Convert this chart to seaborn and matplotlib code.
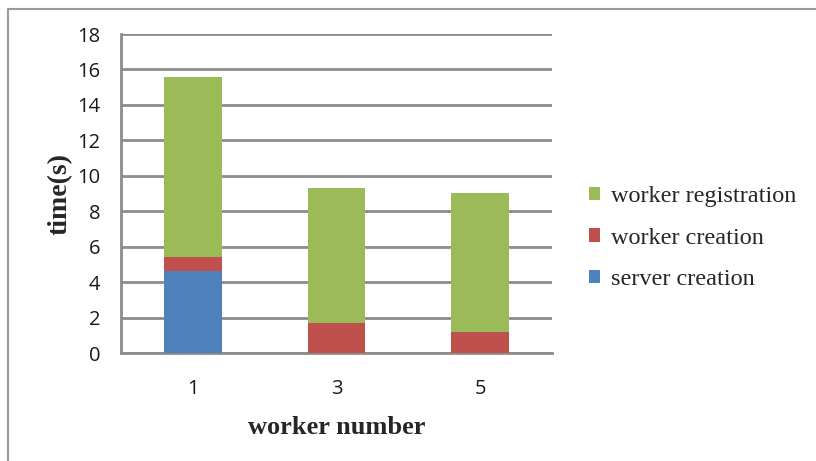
import matplotlib
matplotlib.use("Agg")
import matplotlib.pyplot as plt
import seaborn as sns
import numpy as np
from matplotlib.lines import Line2D

categories = ["1", "3", "5"]
server_creation = [4.6, 0.0, 0.0]
worker_creation = [0.8, 1.68, 1.17]
worker_registration = [10.17, 7.61, 7.84]
y_ticks = [0, 2, 4, 6, 8, 10, 12, 14, 16, 18]

sns.set_theme(style="white")
plt.rcParams['font.family'] = ['Open Sans', 'DejaVu Sans']

W, H = 816, 461
fig = plt.figure(figsize=(W/100, H/100), dpi=100)
ax = fig.add_axes([121/W, 1-353/H, (552-121)/W, (353-34)/H])

blue = "#4F81BD"
red = "#C0504D"
green = "#9BBB59"
gridc = "#8c8c8c"

b1 = np.array(server_creation)
b2 = b1 + np.array(worker_creation)

common = dict(width=0.4, ax=ax, zorder=3, saturation=1, linewidth=0, edgecolor="none")
sns.barplot(x=categories, y=server_creation, color=blue, label="server creation", **common)
sns.barplot(x=categories, y=worker_creation, bottom=b1, color=red, label="worker creation", **common)
sns.barplot(x=categories, y=worker_registration, bottom=b2, color=green, label="worker registration", **common)

ax.set_ylim(0, 18)
ax.set_xlim(-0.5, 2.5)
ax.set_yticks(y_ticks)
ax.set_yticklabels([str(t) for t in y_ticks], fontsize=14.5, color="#1a1a1a")
ax.tick_params(axis='x', labelsize=14.5, labelcolor="#1a1a1a", length=0, pad=19)
ax.tick_params(axis='y', length=6, width=2, color=gridc, direction='out', pad=9)
ax.yaxis.grid(True, color=gridc, linewidth=2, zorder=0)
ax.set_axisbelow(True)
ax.set_xticks([-0.5, 0.5, 1.5, 2.5], minor=True)
ax.tick_params(axis='x', which='minor', length=5, width=2, color=gridc, direction='out')

for s in ["top", "right"]:
    ax.spines[s].set_visible(False)
for s in ["left", "bottom"]:
    ax.spines[s].set_color(gridc)
    ax.spines[s].set_linewidth(2)

ax.set_ylabel("time(s)", fontsize=20, fontweight='bold', family=['Liberation Serif'], labelpad=3)
ax.set_xlabel("worker number", fontsize=19, fontweight='bold', family=['Liberation Serif'], labelpad=12)

handles, labels = ax.get_legend_handles_labels()
leg = ax.legend(handles[::-1], labels[::-1], loc='center left', bbox_to_anchor=(1.035, 0.36),
                frameon=False, prop={'family': 'Liberation Serif', 'size': 17.5},
                handlelength=0.45, handleheight=0.45, handletextpad=0.45, labelspacing=0.85)

fig.lines.append(Line2D([8/W, 8/W, 1.0], [0.0, 1-9/H, 1-9/H], transform=fig.transFigure,
                        color="#999999", linewidth=1.5))

fig.savefig("out.png", dpi=100)
